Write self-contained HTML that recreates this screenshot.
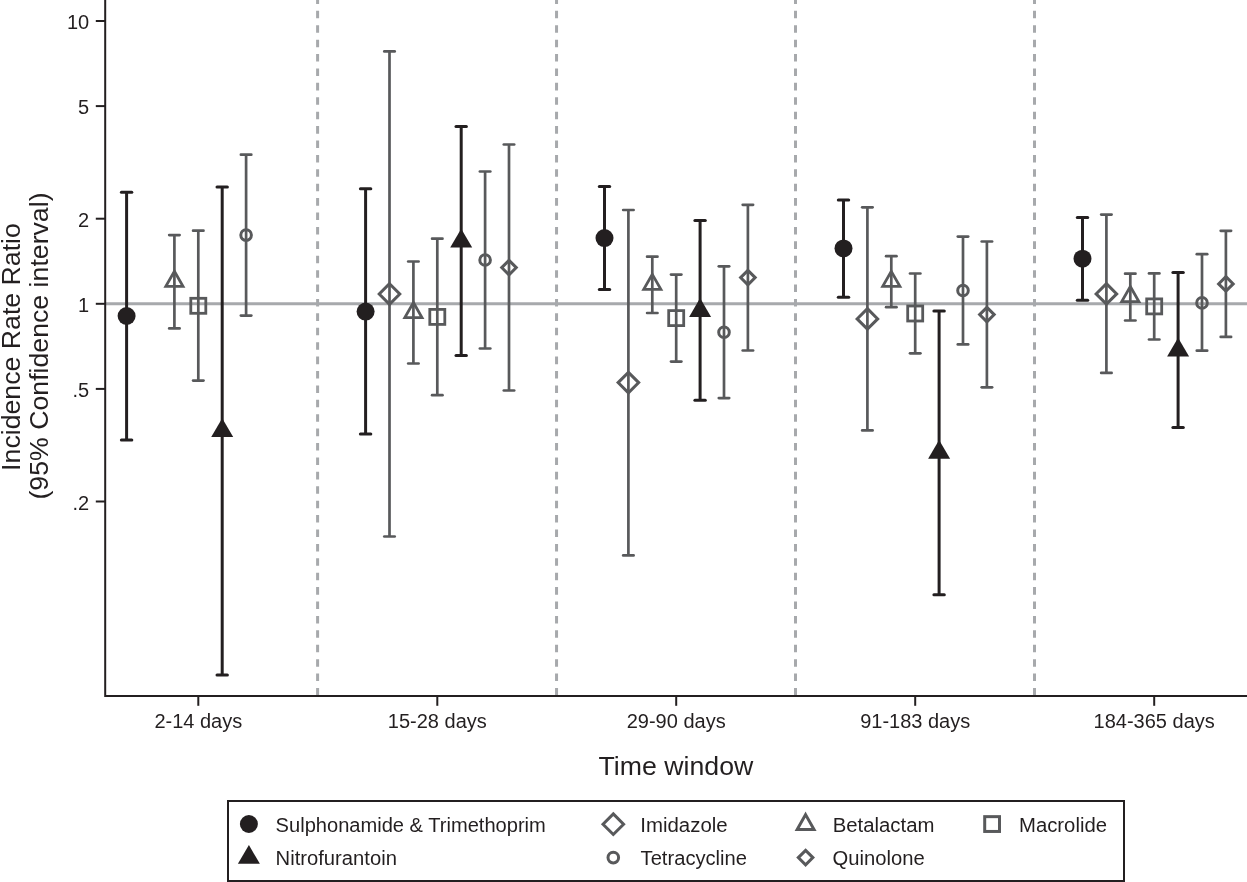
<!DOCTYPE html>
<html><head><meta charset="utf-8"><title>Chart</title>
<style>html,body{margin:0;padding:0;background:#fff;width:1247px;height:882px;overflow:hidden}
svg text{font-family:"Liberation Sans",sans-serif}</style></head>
<body>
<svg width="1247" height="882" viewBox="0 0 1247 882" style="display:block;position:absolute;left:0;top:0;will-change:transform">
<rect width="1247" height="882" fill="#fff"/>
<line x1="105.5" y1="303.8" x2="1247" y2="303.8" stroke="#a7a9ac" stroke-width="3"/>
<line x1="317.60" y1="695.5" x2="317.60" y2="-10" stroke="#a7a9ac" stroke-width="3" stroke-dasharray="7.55 6.857"/>
<line x1="556.55" y1="695.5" x2="556.55" y2="-10" stroke="#a7a9ac" stroke-width="3" stroke-dasharray="7.55 6.857"/>
<line x1="795.50" y1="695.5" x2="795.50" y2="-10" stroke="#a7a9ac" stroke-width="3" stroke-dasharray="7.55 6.857"/>
<line x1="1034.50" y1="695.5" x2="1034.50" y2="-10" stroke="#a7a9ac" stroke-width="3" stroke-dasharray="7.55 6.857"/>
<g stroke="#231f20" stroke-width="3.0" stroke-linecap="round"><line x1="126.6" y1="192.3" x2="126.6" y2="439.9" stroke-linecap="butt"/><line x1="121.4" y1="192.3" x2="131.8" y2="192.3"/><line x1="121.4" y1="439.9" x2="131.8" y2="439.9"/></g>
<g stroke="#58595b" stroke-width="2.7" stroke-linecap="round"><line x1="174.4" y1="235.1" x2="174.4" y2="328.4" stroke-linecap="butt"/><line x1="169.2" y1="235.1" x2="179.6" y2="235.1"/><line x1="169.2" y1="328.4" x2="179.6" y2="328.4"/></g>
<g stroke="#58595b" stroke-width="2.7" stroke-linecap="round"><line x1="198.3" y1="230.7" x2="198.3" y2="380.6" stroke-linecap="butt"/><line x1="193.1" y1="230.7" x2="203.5" y2="230.7"/><line x1="193.1" y1="380.6" x2="203.5" y2="380.6"/></g>
<g stroke="#231f20" stroke-width="3.0" stroke-linecap="round"><line x1="222.2" y1="186.9" x2="222.2" y2="675.0" stroke-linecap="butt"/><line x1="217.0" y1="186.9" x2="227.4" y2="186.9"/><line x1="217.0" y1="675.0" x2="227.4" y2="675.0"/></g>
<g stroke="#58595b" stroke-width="2.7" stroke-linecap="round"><line x1="246.1" y1="154.7" x2="246.1" y2="315.6" stroke-linecap="butt"/><line x1="240.9" y1="154.7" x2="251.3" y2="154.7"/><line x1="240.9" y1="315.6" x2="251.3" y2="315.6"/></g>
<g stroke="#231f20" stroke-width="3.0" stroke-linecap="round"><line x1="365.6" y1="188.8" x2="365.6" y2="434.1" stroke-linecap="butt"/><line x1="360.4" y1="188.8" x2="370.8" y2="188.8"/><line x1="360.4" y1="434.1" x2="370.8" y2="434.1"/></g>
<g stroke="#58595b" stroke-width="2.7" stroke-linecap="round"><line x1="389.5" y1="51.4" x2="389.5" y2="536.5" stroke-linecap="butt"/><line x1="384.3" y1="51.4" x2="394.7" y2="51.4"/><line x1="384.3" y1="536.5" x2="394.7" y2="536.5"/></g>
<g stroke="#58595b" stroke-width="2.7" stroke-linecap="round"><line x1="413.4" y1="261.5" x2="413.4" y2="363.5" stroke-linecap="butt"/><line x1="408.2" y1="261.5" x2="418.6" y2="261.5"/><line x1="408.2" y1="363.5" x2="418.6" y2="363.5"/></g>
<g stroke="#58595b" stroke-width="2.7" stroke-linecap="round"><line x1="437.3" y1="238.7" x2="437.3" y2="395.2" stroke-linecap="butt"/><line x1="432.1" y1="238.7" x2="442.5" y2="238.7"/><line x1="432.1" y1="395.2" x2="442.5" y2="395.2"/></g>
<g stroke="#231f20" stroke-width="3.0" stroke-linecap="round"><line x1="461.2" y1="126.4" x2="461.2" y2="355.4" stroke-linecap="butt"/><line x1="456.0" y1="126.4" x2="466.4" y2="126.4"/><line x1="456.0" y1="355.4" x2="466.4" y2="355.4"/></g>
<g stroke="#58595b" stroke-width="2.7" stroke-linecap="round"><line x1="485.1" y1="171.5" x2="485.1" y2="348.5" stroke-linecap="butt"/><line x1="479.9" y1="171.5" x2="490.3" y2="171.5"/><line x1="479.9" y1="348.5" x2="490.3" y2="348.5"/></g>
<g stroke="#58595b" stroke-width="2.7" stroke-linecap="round"><line x1="509.0" y1="144.5" x2="509.0" y2="390.5" stroke-linecap="butt"/><line x1="503.8" y1="144.5" x2="514.2" y2="144.5"/><line x1="503.8" y1="390.5" x2="514.2" y2="390.5"/></g>
<g stroke="#231f20" stroke-width="3.0" stroke-linecap="round"><line x1="604.5" y1="186.5" x2="604.5" y2="289.6" stroke-linecap="butt"/><line x1="599.3" y1="186.5" x2="609.7" y2="186.5"/><line x1="599.3" y1="289.6" x2="609.7" y2="289.6"/></g>
<g stroke="#58595b" stroke-width="2.7" stroke-linecap="round"><line x1="628.4" y1="210.0" x2="628.4" y2="555.4" stroke-linecap="butt"/><line x1="623.2" y1="210.0" x2="633.6" y2="210.0"/><line x1="623.2" y1="555.4" x2="633.6" y2="555.4"/></g>
<g stroke="#58595b" stroke-width="2.7" stroke-linecap="round"><line x1="652.3" y1="256.7" x2="652.3" y2="313.0" stroke-linecap="butt"/><line x1="647.1" y1="256.7" x2="657.5" y2="256.7"/><line x1="647.1" y1="313.0" x2="657.5" y2="313.0"/></g>
<g stroke="#58595b" stroke-width="2.7" stroke-linecap="round"><line x1="676.2" y1="274.6" x2="676.2" y2="361.6" stroke-linecap="butt"/><line x1="671.0" y1="274.6" x2="681.4" y2="274.6"/><line x1="671.0" y1="361.6" x2="681.4" y2="361.6"/></g>
<g stroke="#231f20" stroke-width="3.0" stroke-linecap="round"><line x1="700.1" y1="220.5" x2="700.1" y2="400.2" stroke-linecap="butt"/><line x1="694.9" y1="220.5" x2="705.3" y2="220.5"/><line x1="694.9" y1="400.2" x2="705.3" y2="400.2"/></g>
<g stroke="#58595b" stroke-width="2.7" stroke-linecap="round"><line x1="724.0" y1="266.3" x2="724.0" y2="398.1" stroke-linecap="butt"/><line x1="718.8" y1="266.3" x2="729.2" y2="266.3"/><line x1="718.8" y1="398.1" x2="729.2" y2="398.1"/></g>
<g stroke="#58595b" stroke-width="2.7" stroke-linecap="round"><line x1="747.9" y1="204.8" x2="747.9" y2="350.5" stroke-linecap="butt"/><line x1="742.7" y1="204.8" x2="753.1" y2="204.8"/><line x1="742.7" y1="350.5" x2="753.1" y2="350.5"/></g>
<g stroke="#231f20" stroke-width="3.0" stroke-linecap="round"><line x1="843.5" y1="199.9" x2="843.5" y2="297.3" stroke-linecap="butt"/><line x1="838.3" y1="199.9" x2="848.7" y2="199.9"/><line x1="838.3" y1="297.3" x2="848.7" y2="297.3"/></g>
<g stroke="#58595b" stroke-width="2.7" stroke-linecap="round"><line x1="867.4" y1="207.3" x2="867.4" y2="430.4" stroke-linecap="butt"/><line x1="862.2" y1="207.3" x2="872.6" y2="207.3"/><line x1="862.2" y1="430.4" x2="872.6" y2="430.4"/></g>
<g stroke="#58595b" stroke-width="2.7" stroke-linecap="round"><line x1="891.3" y1="256.2" x2="891.3" y2="307.2" stroke-linecap="butt"/><line x1="886.1" y1="256.2" x2="896.5" y2="256.2"/><line x1="886.1" y1="307.2" x2="896.5" y2="307.2"/></g>
<g stroke="#58595b" stroke-width="2.7" stroke-linecap="round"><line x1="915.2" y1="273.5" x2="915.2" y2="353.3" stroke-linecap="butt"/><line x1="910.0" y1="273.5" x2="920.4" y2="273.5"/><line x1="910.0" y1="353.3" x2="920.4" y2="353.3"/></g>
<g stroke="#231f20" stroke-width="3.0" stroke-linecap="round"><line x1="939.1" y1="311.0" x2="939.1" y2="594.8" stroke-linecap="butt"/><line x1="933.9" y1="311.0" x2="944.3" y2="311.0"/><line x1="933.9" y1="594.8" x2="944.3" y2="594.8"/></g>
<g stroke="#58595b" stroke-width="2.7" stroke-linecap="round"><line x1="963.0" y1="236.6" x2="963.0" y2="344.4" stroke-linecap="butt"/><line x1="957.8" y1="236.6" x2="968.2" y2="236.6"/><line x1="957.8" y1="344.4" x2="968.2" y2="344.4"/></g>
<g stroke="#58595b" stroke-width="2.7" stroke-linecap="round"><line x1="986.9" y1="241.5" x2="986.9" y2="387.3" stroke-linecap="butt"/><line x1="981.7" y1="241.5" x2="992.1" y2="241.5"/><line x1="981.7" y1="387.3" x2="992.1" y2="387.3"/></g>
<g stroke="#231f20" stroke-width="3.0" stroke-linecap="round"><line x1="1082.5" y1="217.4" x2="1082.5" y2="300.3" stroke-linecap="butt"/><line x1="1077.3" y1="217.4" x2="1087.7" y2="217.4"/><line x1="1077.3" y1="300.3" x2="1087.7" y2="300.3"/></g>
<g stroke="#58595b" stroke-width="2.7" stroke-linecap="round"><line x1="1106.4" y1="214.6" x2="1106.4" y2="372.9" stroke-linecap="butt"/><line x1="1101.2" y1="214.6" x2="1111.6" y2="214.6"/><line x1="1101.2" y1="372.9" x2="1111.6" y2="372.9"/></g>
<g stroke="#58595b" stroke-width="2.7" stroke-linecap="round"><line x1="1130.3" y1="273.7" x2="1130.3" y2="320.5" stroke-linecap="butt"/><line x1="1125.1" y1="273.7" x2="1135.5" y2="273.7"/><line x1="1125.1" y1="320.5" x2="1135.5" y2="320.5"/></g>
<g stroke="#58595b" stroke-width="2.7" stroke-linecap="round"><line x1="1154.2" y1="273.4" x2="1154.2" y2="339.5" stroke-linecap="butt"/><line x1="1149.0" y1="273.4" x2="1159.4" y2="273.4"/><line x1="1149.0" y1="339.5" x2="1159.4" y2="339.5"/></g>
<g stroke="#231f20" stroke-width="3.0" stroke-linecap="round"><line x1="1178.1" y1="272.6" x2="1178.1" y2="427.4" stroke-linecap="butt"/><line x1="1172.9" y1="272.6" x2="1183.3" y2="272.6"/><line x1="1172.9" y1="427.4" x2="1183.3" y2="427.4"/></g>
<g stroke="#58595b" stroke-width="2.7" stroke-linecap="round"><line x1="1202.0" y1="254.2" x2="1202.0" y2="350.7" stroke-linecap="butt"/><line x1="1196.8" y1="254.2" x2="1207.2" y2="254.2"/><line x1="1196.8" y1="350.7" x2="1207.2" y2="350.7"/></g>
<g stroke="#58595b" stroke-width="2.7" stroke-linecap="round"><line x1="1225.9" y1="230.8" x2="1225.9" y2="336.9" stroke-linecap="butt"/><line x1="1220.7" y1="230.8" x2="1231.1" y2="230.8"/><line x1="1220.7" y1="336.9" x2="1231.1" y2="336.9"/></g>
<circle cx="126.6" cy="316.0" r="9" fill="#231f20"/>
<path d="M174.40 271.26L182.99 286.33L165.81 286.33Z" fill="none" stroke="#58595b" stroke-width="2.8" stroke-linejoin="miter"/>
<rect x="190.80" y="298.30" width="15.00" height="15.00" fill="none" stroke="#58595b" stroke-width="2.8"/>
<path d="M222.2 418.2L233.2 437.0L211.2 437.0Z" fill="#231f20"/>
<circle cx="246.1" cy="235.1" r="5.30" fill="none" stroke="#58595b" stroke-width="3.0"/>
<circle cx="365.6" cy="311.6" r="9" fill="#231f20"/>
<path d="M389.50 283.72L399.78 294.00L389.50 304.28L379.22 294.00Z" fill="none" stroke="#58595b" stroke-width="3.0"/>
<path d="M413.40 302.46L421.99 317.53L404.81 317.53Z" fill="none" stroke="#58595b" stroke-width="2.8" stroke-linejoin="miter"/>
<rect x="429.80" y="309.40" width="15.00" height="15.00" fill="none" stroke="#58595b" stroke-width="2.8"/>
<path d="M461.2 228.8L472.2 247.6L450.2 247.6Z" fill="#231f20"/>
<circle cx="485.1" cy="260.0" r="5.30" fill="none" stroke="#58595b" stroke-width="3.0"/>
<path d="M509.00 260.32L516.28 267.60L509.00 274.88L501.72 267.60Z" fill="none" stroke="#58595b" stroke-width="3.0"/>
<circle cx="604.5" cy="238.1" r="9" fill="#231f20"/>
<path d="M628.40 372.32L638.68 382.60L628.40 392.88L618.12 382.60Z" fill="none" stroke="#58595b" stroke-width="3.0"/>
<path d="M652.30 274.36L660.89 289.43L643.71 289.43Z" fill="none" stroke="#58595b" stroke-width="2.8" stroke-linejoin="miter"/>
<rect x="668.70" y="310.60" width="15.00" height="15.00" fill="none" stroke="#58595b" stroke-width="2.8"/>
<path d="M700.1 298.1L711.1 316.9L689.1 316.9Z" fill="#231f20"/>
<circle cx="724.0" cy="332.3" r="5.30" fill="none" stroke="#58595b" stroke-width="3.0"/>
<path d="M747.90 270.32L755.18 277.60L747.90 284.88L740.62 277.60Z" fill="none" stroke="#58595b" stroke-width="3.0"/>
<circle cx="843.5" cy="248.4" r="9" fill="#231f20"/>
<path d="M867.40 308.62L877.68 318.90L867.40 329.18L857.12 318.90Z" fill="none" stroke="#58595b" stroke-width="3.0"/>
<path d="M891.30 271.36L899.89 286.43L882.71 286.43Z" fill="none" stroke="#58595b" stroke-width="2.8" stroke-linejoin="miter"/>
<rect x="907.70" y="306.00" width="15.00" height="15.00" fill="none" stroke="#58595b" stroke-width="2.8"/>
<path d="M939.1 439.9L950.1 458.7L928.1 458.7Z" fill="#231f20"/>
<circle cx="963.0" cy="290.5" r="5.30" fill="none" stroke="#58595b" stroke-width="3.0"/>
<path d="M986.90 307.32L994.18 314.60L986.90 321.88L979.62 314.60Z" fill="none" stroke="#58595b" stroke-width="3.0"/>
<circle cx="1082.5" cy="258.7" r="9" fill="#231f20"/>
<path d="M1106.40 283.62L1116.68 293.90L1106.40 304.18L1096.12 293.90Z" fill="none" stroke="#58595b" stroke-width="3.0"/>
<path d="M1130.30 286.56L1138.89 301.63L1121.71 301.63Z" fill="none" stroke="#58595b" stroke-width="2.8" stroke-linejoin="miter"/>
<rect x="1146.70" y="298.90" width="15.00" height="15.00" fill="none" stroke="#58595b" stroke-width="2.8"/>
<path d="M1178.1 337.8L1189.1 356.6L1167.1 356.6Z" fill="#231f20"/>
<circle cx="1202.0" cy="302.9" r="5.30" fill="none" stroke="#58595b" stroke-width="3.0"/>
<path d="M1225.90 276.62L1233.18 283.90L1225.90 291.18L1218.62 283.90Z" fill="none" stroke="#58595b" stroke-width="3.0"/>
<path d="M105.2 0V696H1247" fill="none" stroke="#231f20" stroke-width="2" stroke-linejoin="miter"/>
<line x1="95.8" y1="21.0" x2="105.2" y2="21.0" stroke="#231f20" stroke-width="2"/>
<text x="89.2" y="29.0" text-anchor="end" font-size="20" fill="#231f20">10</text>
<line x1="95.8" y1="106.1" x2="105.2" y2="106.1" stroke="#231f20" stroke-width="2"/>
<text x="89.2" y="114.1" text-anchor="end" font-size="20" fill="#231f20">5</text>
<line x1="95.8" y1="218.7" x2="105.2" y2="218.7" stroke="#231f20" stroke-width="2"/>
<text x="89.2" y="226.7" text-anchor="end" font-size="20" fill="#231f20">2</text>
<line x1="95.8" y1="303.8" x2="105.2" y2="303.8" stroke="#231f20" stroke-width="2"/>
<text x="89.2" y="311.8" text-anchor="end" font-size="20" fill="#231f20">1</text>
<line x1="95.8" y1="388.9" x2="105.2" y2="388.9" stroke="#231f20" stroke-width="2"/>
<text x="89.2" y="396.9" text-anchor="end" font-size="20" fill="#231f20">.5</text>
<line x1="95.8" y1="501.5" x2="105.2" y2="501.5" stroke="#231f20" stroke-width="2"/>
<text x="89.2" y="509.5" text-anchor="end" font-size="20" fill="#231f20">.2</text>
<line x1="198.3" y1="696" x2="198.3" y2="705.8" stroke="#231f20" stroke-width="2"/>
<text x="198.3" y="728.1" text-anchor="middle" font-size="20" fill="#231f20">2-14 days</text>
<line x1="437.3" y1="696" x2="437.3" y2="705.8" stroke="#231f20" stroke-width="2"/>
<text x="437.3" y="728.1" text-anchor="middle" font-size="20" fill="#231f20">15-28 days</text>
<line x1="676.2" y1="696" x2="676.2" y2="705.8" stroke="#231f20" stroke-width="2"/>
<text x="676.2" y="728.1" text-anchor="middle" font-size="20" fill="#231f20">29-90 days</text>
<line x1="915.2" y1="696" x2="915.2" y2="705.8" stroke="#231f20" stroke-width="2"/>
<text x="915.2" y="728.1" text-anchor="middle" font-size="20" fill="#231f20">91-183 days</text>
<line x1="1154.2" y1="696" x2="1154.2" y2="705.8" stroke="#231f20" stroke-width="2"/>
<text x="1154.2" y="728.1" text-anchor="middle" font-size="20" fill="#231f20">184-365 days</text>
<text x="675.9" y="775.4" text-anchor="middle" font-size="26.7" fill="#231f20">Time window</text>
<text transform="translate(20,347) rotate(-90)" text-anchor="middle" font-size="26.7" fill="#231f20">Incidence Rate Ratio</text>
<text transform="translate(48,346) rotate(-90)" text-anchor="middle" font-size="26.7" fill="#231f20">(95% Confidence interval)</text>
<rect x="228" y="801" width="896" height="80" fill="#fff" stroke="#231f20" stroke-width="2"/>
<circle cx="248.9" cy="824.0" r="9" fill="#231f20"/>
<path d="M248.9 845.0L259.9 863.8L237.9 863.8Z" fill="#231f20"/>
<path d="M613.30 813.92L623.58 824.20L613.30 834.48L603.02 824.20Z" fill="none" stroke="#58595b" stroke-width="3.0"/>
<circle cx="613.3" cy="857.6" r="5.30" fill="none" stroke="#58595b" stroke-width="3.0"/>
<path d="M805.60 814.63L814.02 829.40L797.18 829.40Z" fill="none" stroke="#58595b" stroke-width="3.0" stroke-linejoin="miter"/>
<path d="M805.60 850.32L812.88 857.60L805.60 864.88L798.32 857.60Z" fill="none" stroke="#58595b" stroke-width="3.0"/>
<rect x="984.70" y="816.65" width="14.80" height="14.80" fill="none" stroke="#58595b" stroke-width="3.0"/>
<text x="275.6" y="831.8" font-size="20" fill="#231f20" textLength="270.2" lengthAdjust="spacingAndGlyphs">Sulphonamide &amp; Trimethoprim</text>
<text x="275.6" y="865.0" font-size="20" fill="#231f20" textLength="121.3" lengthAdjust="spacingAndGlyphs">Nitrofurantoin</text>
<text x="640.3" y="831.8" font-size="20" fill="#231f20" textLength="87.4" lengthAdjust="spacingAndGlyphs">Imidazole</text>
<text x="640.6" y="865.0" font-size="20" fill="#231f20" textLength="106.4" lengthAdjust="spacingAndGlyphs">Tetracycline</text>
<text x="832.7" y="831.8" font-size="20" fill="#231f20" textLength="101.7" lengthAdjust="spacingAndGlyphs">Betalactam</text>
<text x="832.6" y="865.0" font-size="20" fill="#231f20" textLength="92.2" lengthAdjust="spacingAndGlyphs">Quinolone</text>
<text x="1019.0" y="831.8" font-size="20" fill="#231f20" textLength="88.0" lengthAdjust="spacingAndGlyphs">Macrolide</text>
</svg>
</body></html>
